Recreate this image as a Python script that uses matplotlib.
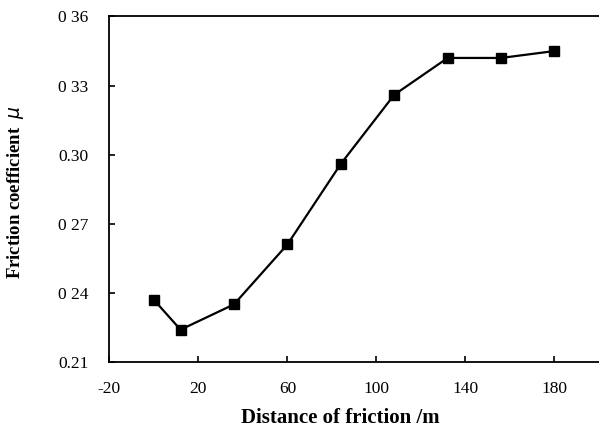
import matplotlib
matplotlib.use("Agg")
import matplotlib.pyplot as plt

# friction data
distance = [0, 12, 36, 60, 84, 108, 132, 156, 180]
mu = [0.237, 0.224, 0.235, 0.261, 0.296, 0.326, 0.342, 0.342, 0.345]
xticks = [-20, 20, 60, 100, 140, 180]
xtick_labels = ["-20", "20", "60", "100", "140", "180"]
yticks = [0.21, 0.24, 0.27, 0.30, 0.33, 0.36]
ytick_labels = ["0.21", "0 24", "0 27", "0.30", "0 33", "0 36"]

plt.rcParams["font.family"] = ["Liberation Serif", "DejaVu Serif"]

fig = plt.figure(figsize=(5.99, 4.34), dpi=100)
ax = fig.add_axes([0.1825, 0.166, 0.8175, 0.796])

ax.plot(distance, mu, color="black", linewidth=1.6, marker="s",
        markersize=7.5, markerfacecolor="black", markeredgecolor="black")

ax.set_xlim(-20, 200)
ax.set_ylim(0.21, 0.36)
ax.set_xticks(xticks)
ax.set_xticklabels(xtick_labels)
ax.set_yticks(yticks)
ax.set_yticklabels(ytick_labels)
ax.tick_params(direction="in", length=4.5, width=1.2, labelsize=12.5)
ax.tick_params(axis="y", pad=15)
ax.tick_params(axis="x", pad=14)

ax.spines["right"].set_visible(False)
for s in ["left", "bottom", "top"]:
    ax.spines[s].set_linewidth(1.3)

# axis titles placed like the original
fig.text(340 / 599, 1 - 418 / 434, "Distance of friction /m", fontsize=15,
         fontweight="bold", ha="center", va="center")
fig.text(16 / 599, 1 - 192 / 434, "Friction coefficient  $\\mu$", fontsize=13.5,
         fontweight="bold", ha="center", va="center", rotation=90)

fig.savefig("out.png", dpi=100)
